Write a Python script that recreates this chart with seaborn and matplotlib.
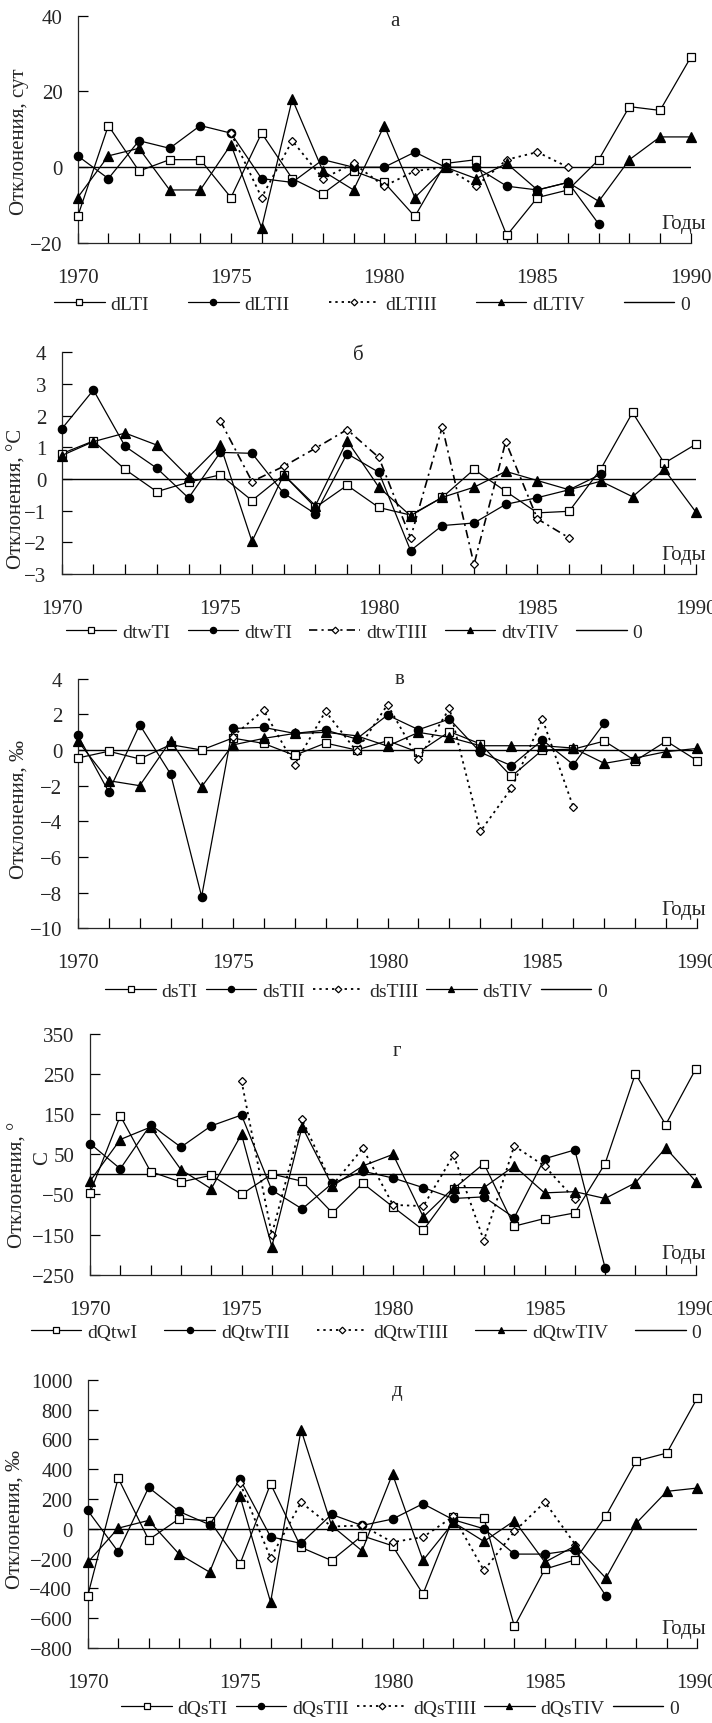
import numpy as np
import pandas as pd
import seaborn as sns
import matplotlib.pyplot as plt

sns.set_style("ticks")
plt.rcParams.update({
    "font.family": ["Liberation Serif", "DejaVu Serif"],
    "font.size": 15,
    "axes.linewidth": 0.9,
    "xtick.labelsize": 15,
    "ytick.labelsize": 15,
    "legend.fontsize": 14,
})

nan = np.nan
YEARS = list(range(1970, 1991))
TICK_YEARS = [1970, 1975, 1980, 1985, 1990]

# --- а: duration deviations, days
dLTI = [-13, 11, -1, 2, 2, -8, 9, -3, -7, -1, -4, -13, 1, 2, -18, -8, -6, 2, 16, 15, 29]
dLTII = [3, -3, 7, 5, 11, 9, -3, -4, 2, 0, 0, 4, 0, 0, -5, -6, -4, -15, nan, nan, nan]
dLTIII = [nan, nan, nan, nan, nan, 9, -8, 7, -3, 1, -5, -1, 0, -5, 2, 4, 0, nan, nan, nan, nan]
dLTIV = [-8, 3, 5, -6, -6, 6, -16, 18, -1, -6, 11, -8, 0, -3, 1, -6, -4, -9, 2, 8, 8]

# --- б: water temperature, °C
dtwTI = [0.8, 1.2, 0.3, -0.4, -0.1, 0.13, -0.68, 0.13, -0.9, -0.2, -0.9, -1.14, -0.58, 0.3,
         -0.39, -1.07, -1.02, 0.32, 2.1, 0.5, 1.1]
dtwTII = [1.58, 2.81, 1.03, 0.34, -0.6, 0.84, 0.81, -0.45, -1.1, 0.8, 0.21, -2.26, -1.47, -1.39,
          -0.8, -0.59, -0.34, 0.15, nan, nan, nan]
dtwTIII = [nan, nan, nan, nan, nan, 1.84, -0.08, 0.4, 0.97, 1.56, 0.68, -1.86, 1.65, -2.7,
           1.18, -1.26, -1.86, nan, nan, nan, nan]
dtvTIV = [0.74, 1.18, 1.45, 1.07, 0.06, 1.07, -1.97, 0.13, -0.84, 1.21, -0.26, -1.16, -0.58, -0.26,
          0.24, -0.05, -0.34, -0.07, -0.56, 0.3, -1.05]

# --- в: salinity, ‰
dsTI = [-0.45, -0.07, -0.5, 0.3, 0.0, 0.67, 0.37, -0.3, 0.39, 0.0, 0.52, -0.13, 1.03, 0.34,
        -1.48, 0.0, 0.05, 0.5, -0.6, 0.5, -0.6]
dsTII = [0.84, -2.34, 1.42, -1.35, -8.22, 1.21, 1.27, 0.93, 1.12, 0.62, 1.96, 1.14, 1.74, -0.13,
         -0.88, 0.56, -0.82, 1.51, nan, nan, nan]
dsTIII = [nan, nan, nan, nan, nan, 0.75, 2.24, -0.82, 2.17, -0.07, 2.54, -0.52, 2.34, -4.56,
          -2.15, 1.74, -3.21, nan, nan, nan, nan]
dsTIV = [0.52, -1.72, -2.0, 0.52, -2.06, 0.28, 0.65, 0.93, 0.99, 0.8, 0.22, 0.99, 0.71, 0.24,
         0.24, 0.24, 0.11, -0.75, -0.45, -0.09, 0.09]

# --- г: heat content, °C
dQtwI = [-46, 146, 7, -19, -2, -50, 1, -17, -96, -22, -81, -139, -36, 27, -129, -110, -96, 27,
         251, 124, 264]
dQtwTII = [77, 14, 124, 68, 121, 148, -39, -86, -22, 8, -9, -33, -60, -56, -108, 39, 61, -233,
           nan, nan, nan]
dQtwTIII = [nan, nan, nan, nan, nan, 233, -150, 137, -27, 65, -76, -79, 48, -165, 71, 21, -62,
            nan, nan, nan, nan]
dQtwTIV = [-17, 87, 118, 12, -36, 100, -180, 119, -29, 21, 50, -106, -33, -33, 21, -46, -43, -60,
           -21, 66, -18]

# --- д: salt content, ‰
dQsTI = [-450, 340, -74, 67, 54, -235, 302, -125, -213, -47, -114, -438, 78, 72, -655, -271, -208,
         87, 454, 508, 877]
dQsTII = [123, -154, 277, 116, 27, 331, -54, -98, 96, 22, 65, 168, 60, 0, -170, -170, -141, -450,
          nan, nan, nan]
dQsTIII = [nan, nan, nan, nan, nan, 306, -197, 177, 15, 22, -90, -56, 83, -280, -18, 179, -107,
           nan, nan, nan, nan]
dQsTIV = [-226, 4, 56, -170, -291, 217, -492, 664, 22, -148, 367, -212, 43, -85, 54, -224, -114,
          -331, 38, 251, 273]

DOTTED = (0, (1.3, 2.2))

# marker / line style for the four series of every panel
STYLES = [
    dict(marker="s", mfc="white", ms=6, ls="-", lw=0.9),
    dict(marker="o", mfc="black", ms=6, ls="-", lw=0.9),
    dict(marker="D", mfc="white", ms=4.5, ls=DOTTED, lw=1.3),
    dict(marker="^", mfc="black", ms=6.5, ls="-", lw=0.9),
]

W, H = 712, 1724

PANELS = [
    dict(series=[dLTI, dLTII, dLTIII, dLTIV], labels=["dLTI", "dLTII", "dLTIII", "dLTIV"],
         box=(77.7, 690.7, 16.7, 244), ylim=(-20, 40), yticks=[-20, 0, 20, 40],
         letter="а", letter_xy=(395, 21), ylabel="Отклонения, сут", ylabel_xy=(20, 142),
         years_y=225, legend_xy=(372, 305), colsp=2.0),
    dict(series=[dtwTI, dtwTII, dtwTIII, dtvTIV], labels=["dtwTI", "dtwTI", "dtwTIII", "dtvTIV"],
         box=(61.7, 696, 353.3, 575), ylim=(-3, 4), yticks=list(range(-3, 5)),
         letter="б", letter_xy=(358, 355), ylabel="Отклонения, °С", ylabel_xy=(17, 499),
         years_y=556, legend_xy=(354, 633), colsp=0.9, third_ls=(0, (5, 2.5, 1.3, 2.5))),
    dict(series=[dsTI, dsTII, dsTIII, dsTIV], labels=["dsTI", "dsTII", "dsTIII", "dsTIV"],
         box=(77.7, 697.3, 679.7, 929.3), ylim=(-10, 4), yticks=list(range(-10, 5, 2)),
         letter="в", letter_xy=(400, 679), ylabel="Отклонения, ‰", ylabel_xy=(19, 810),
         years_y=910, legend_xy=(356, 992), colsp=0.4),
    dict(series=[dQtwI, dQtwTII, dQtwTIII, dQtwTIV],
         labels=["dQtwI", "dQtwTII", "dQtwTIII", "dQtwTIV"],
         box=(90, 696, 1035, 1275.7), ylim=(-250, 350), yticks=list(range(-250, 351, 100)),
         letter="г", letter_xy=(397, 1052), ylabel="Отклонения, °", ylabel_xy=(18, 1185),
         years_y=1255, legend_xy=(366, 1333), colsp=1.4),
    dict(series=[dQsTI, dQsTII, dQsTIII, dQsTIV], labels=["dQsTI", "dQsTII", "dQsTIII", "dQsTIV"],
         box=(87.7, 697.3, 1380.7, 1649), ylim=(-800, 1000), yticks=list(range(-800, 1001, 200)),
         letter="д", letter_xy=(397, 1392), ylabel="Отклонения, ‰", ylabel_xy=(15, 1520),
         years_y=1630, legend_xy=(400, 1709), colsp=0.4),
]

fig = plt.figure(figsize=(W / 100, H / 100), dpi=100)


def fx(x):
    return x / W


def fy(y):
    return 1 - y / H


for p in PANELS:
    left, right, top, bottom = p["box"]
    ax = fig.add_axes([fx(left), fy(bottom), fx(right - left), (bottom - top) / H])

    zero = ax.axhline(0, color="black", lw=1.0, zorder=1, label="0")

    handles = []
    for i, (vals, lab, st) in enumerate(zip(p["series"], p["labels"], STYLES)):
        df = pd.DataFrame({"year": YEARS, "value": vals}).dropna()
        ls = st["ls"]
        lw = st["lw"]
        if i == 2 and "third_ls" in p:
            ls = p["third_ls"]
            lw = 1.2
        sns.lineplot(data=df, x="year", y="value", ax=ax, color="black", lw=lw,
                     linestyle=ls, marker=st["marker"], ms=st["ms"], mfc=st["mfc"],
                     mec="black", mew=0.9, label=lab, clip_on=False, zorder=3 + i)
        handles.append(ax.get_lines()[-1])
    handles.append(zero)

    ax.set_xlim(1970, 1990)
    ax.set_ylim(*p["ylim"])
    ax.set_xticks(TICK_YEARS)
    ax.set_xticks(YEARS, minor=True)
    ax.set_yticks(p["yticks"])
    ax.set_xlabel("")
    ax.set_ylabel("")
    ax.tick_params(which="both", direction="in", length=7, width=0.9, color="black")
    ax.tick_params(axis="x", which="major", pad=18)
    ax.tick_params(axis="y", pad=11)
    sns.despine(ax=ax)

    ax.legend(handles=handles, labels=p["labels"] + ["0"], loc="center",
              bbox_to_anchor=(fx(p["legend_xy"][0]), fy(p["legend_xy"][1])),
              bbox_transform=fig.transFigure, ncol=5, frameon=False,
              handlelength=2.6, handletextpad=0.3, columnspacing=p["colsp"],
              markerscale=0.75, borderpad=0)

    fig.text(fx(p["letter_xy"][0]), fy(p["letter_xy"][1]), p["letter"], ha="center",
             va="center", fontsize=15)
    fig.text(fx(706), fy(p["years_y"]), "Годы", ha="right", va="center", fontsize=15)
    fig.text(fx(p["ylabel_xy"][0]), fy(p["ylabel_xy"][1]), p["ylabel"], rotation=90,
             ha="center", va="center", fontsize=15)

# stray "С" of the г panel label, sitting beside the tick labels
fig.text(fx(43), fy(1158), "С", rotation=90, ha="center", va="center", fontsize=15)

fig.savefig("out.png", dpi=100)
